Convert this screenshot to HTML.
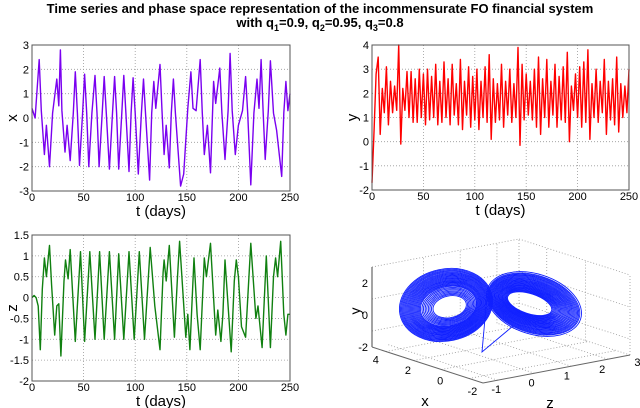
<!DOCTYPE html>
<html><head><meta charset="utf-8"><style>
body{margin:0;background:#fff;}
svg{display:block;font-family:"Liberation Sans",Arial,sans-serif;}
</style></head><body>
<svg id="fig" width="640" height="408" viewBox="0 0 640 408" xmlns="http://www.w3.org/2000/svg">
<text x="320" y="13" text-anchor="middle" font-size="13" font-weight="bold">Time series and phase space representation of the incommensurate FO financial system</text>
<text x="320" y="27" text-anchor="middle" font-size="13" font-weight="bold">with q<tspan font-size="9" dy="4">1</tspan><tspan dy="-4">=0.9, q</tspan><tspan font-size="9" dy="4">2</tspan><tspan dy="-4">=0.95, q</tspan><tspan font-size="9" dy="4">3</tspan><tspan dy="-4">=0.8</tspan></text>
<g id="layer"></g>
</svg>
<script>
const tTicks=[0,50,100,150,200,250];
const xTicks=[-3,-2,-1,0,1,2,3];
const yTicks=[-2,-1,0,1,2,3,4];
const zTicks=[-2,-1.5,-1,-0.5,0,0.5,1,1.5];
const xSeries=[[0,0.4],[3,0],[7,2.4],[9,0.3],[12,-1.5],[14,-0.3],[17,-2.0],[20,0.2],[24,1.6],[26,0.5],[27.5,2.8],[29,0.3],[32,-1.4],[34,-0.3],[37,-1.75],[40,0.2],[42,1.9],[44,0.2],[46,-1.95],[49,0.2],[51,1.8],[53,0.2],[55,-2.0],[58,0.2],[61,1.75],[63,0.2],[65,-2.0],[68,0.2],[70,1.7],[72,0.2],[75,-2.1],[78,0.2],[80,1.7],[82,0.2],[84,-2.1],[87,0.2],[89,1.75],[91,0.2],[94,-2.2],[96,0.2],[98,1.65],[100,0.2],[103,-2.3],[106,0.2],[108,1.6],[110,0.2],[114,-2.55],[116,0.2],[118,1.5],[120,0.4],[124,2.2],[126,0.3],[128,-1.5],[130,-0.3],[133,-2.05],[135,0.2],[137,1.6],[139,0.2],[144,-2.8],[147,-2.3],[151,0.4],[154,1.9],[156,0.4],[159,0.3],[163,2.4],[165,0.2],[167,-1.5],[170,-0.3],[173,-2.25],[176,1.5],[178,0.6],[182,2.05],[184,0.2],[187,-1.7],[190,0.3],[192,2.65],[194,0.3],[197,-1.5],[200,-0.3],[204,0.3],[207,1.7],[209,0.2],[212,-2.75],[215,0.2],[218,1.6],[220,0.4],[222,2.4],[224,0.2],[226,-1.7],[229,0.3],[231,2.35],[234,0.2],[237,-0.5],[242,-2.4],[244,0.2],[246,1.5],[248,0.3],[250,1.0]];
const ySeries=[[0,-1.7],[2,0.5],[4,2.8],[6,3.5],[8,0.3],[10,2.2],[12,1.2],[14,3.1],[16,0.7],[18,2.5],[20,1.2],[22,2.3],[24,1.3],[26,4.0],[28,-0.1],[30,2.2],[32,1.3],[34,2.9],[36,1.0],[38,2.9],[40,0.8],[42,2.6],[44,0.8],[46,3.0],[48,1.0],[50,2.8],[52,0.7],[54,3.0],[56,0.9],[58,2.7],[60,1.0],[62,3.2],[64,0.7],[66,2.5],[68,0.8],[70,3.3],[72,1.0],[74,2.6],[76,0.7],[78,3.2],[80,1.1],[82,2.4],[84,0.7],[86,3.4],[88,0.5],[90,2.5],[92,1.1],[94,3.1],[96,0.6],[98,2.7],[100,0.9],[102,3.0],[104,0.5],[106,2.5],[108,1.0],[110,3.1],[112,0.8],[114,3.6],[116,0.1],[118,2.6],[120,0.8],[122,2.4],[124,0.9],[126,3.2],[128,0.6],[130,2.5],[132,1.1],[134,3.0],[136,0.8],[138,2.4],[140,1.0],[142,3.9],[144,-0.15],[146,3.2],[148,0.9],[150,2.8],[152,1.1],[154,2.5],[156,0.9],[158,3.0],[160,0.6],[162,3.5],[164,0.3],[166,2.6],[168,1.0],[170,3.4],[172,0.6],[174,2.5],[176,1.1],[178,3.2],[180,0.6],[182,2.7],[184,0.9],[186,3.1],[188,0.8],[190,3.7],[192,0.0],[194,2.3],[196,1.3],[198,2.8],[200,1.0],[202,3.1],[204,0.6],[206,3.3],[208,0.8],[210,3.8],[212,0.1],[214,2.4],[216,1.0],[218,3.0],[220,0.8],[222,2.5],[224,1.2],[226,3.4],[228,0.3],[230,2.5],[232,0.9],[234,2.6],[236,0.7],[238,3.5],[240,0.4],[242,2.4],[244,1.0],[246,2.3],[248,1.2],[250,3.0]];
const zSeries=[[0,0],[2,0.05],[4,0],[6,-0.2],[8,-1.25],[10,0.2],[12,0.95],[14,0.5],[17,1.25],[19,0.3],[22,-0.9],[24,-0.2],[26,-0.15],[28,-1.4],[31,0.4],[32.5,0.9],[35,0.45],[37,1.15],[42,-1.05],[47,1.1],[51,-1.05],[56,1.1],[61,-1.0],[65.5,1.1],[70,-1.0],[75,1.1],[80,-1.0],[84,1.05],[89,-1.0],[94,1.1],[99,-1.0],[104,1.1],[109,-1.0],[114.5,1.2],[119,-0.2],[124,-1.25],[127,0.6],[128,0.9],[130,0.4],[133,1.25],[138,-0.95],[141,0.5],[143,1.35],[149,-0.95],[151,-0.4],[153,-1.25],[157,0.95],[160,-0.4],[163,-1.25],[167,0.95],[169,0.5],[173,1.3],[178,-0.9],[180,-0.3],[183,-1.05],[185,-0.4],[187,0.9],[193,-1.3],[196,0.4],[198,0.9],[200,0.5],[203,-0.7],[207,-0.95],[210,0.4],[212,1.3],[217,-0.5],[219,-0.2],[223,-1.2],[227,1.0],[231,-1.2],[234,0.5],[236,0.95],[238,0.5],[241,1.35],[244,-0.4],[246,-0.9],[248,-0.4],[250,-0.4]];
const leftLobeScales=[1.0,0.98,0.96,0.94,0.92,0.9,0.88,0.86,0.84,0.82,0.8,0.78,0.76,0.74,0.72,0.7,0.68,0.66,0.64,0.62,0.6,0.57,0.54,0.51,0.48,0.45,0.42,0.39,0.36];
const rightLobeScales=[1.0,0.97,0.95,0.93,0.91,0.89,0.87,0.85,0.83,0.81,0.79,0.77,0.75,0.73,0.71,0.69,0.67,0.65,0.63,0.61,0.59,0.57,0.55,0.53,0.51,0.49,0.47];
const phaseTicksX=[4,2,0,-2];
const phaseTicksY=[-2,0,2];
const phaseTicksZ=[-1,0,1,2,3];

const NS='http://www.w3.org/2000/svg';
const layer=document.getElementById('layer');
function mk(tag,attrs,parent){const e=document.createElementNS(NS,tag);for(const k in attrs)e.setAttribute(k,attrs[k]);(parent||layer).appendChild(e);return e;}
function txt(x,y,s,size,anchor,parent){const e=mk('text',{x:x,y:y,'font-size':size,'text-anchor':anchor||'middle'},parent);e.textContent=s;return e;}

function panel(name,box,ymin,ymax,yt,data,color,ylabel){
  const g=mk('g',{});
  
  
  const sx=t=>box.l+(t-0)/(250-0)*(box.r-box.l);
  const sy=v=>box.b-(v-ymin)/(ymax-ymin)*(box.b-box.t);
  tTicks.forEach(t=>{
    if(t>0&&t<250){const gl=mk('line',{x1:sx(t),x2:sx(t),y1:box.t,y2:box.b,stroke:'#999','stroke-width':0.8,'stroke-dasharray':'1,2'},g);
    
    }
    const tl=txt(sx(t),box.b+10,String(t),11,'middle',g);
    
    
  });
  yt.forEach(v=>{
    if(v>ymin&&v<ymax){const gl=mk('line',{x1:box.l,x2:box.r,y1:sy(v),y2:sy(v),stroke:'#999','stroke-width':0.8,'stroke-dasharray':'1,2'},g);
    
    }
    const tl=txt(box.l-3,sy(v)+4,String(v),11,'end',g);
    
    
  });
  const d=data.map((p,i)=>(i?'L':'M')+sx(p[0]).toFixed(1)+','+sy(p[1]).toFixed(1)).join('');
  const ln=mk('path',{d:d,fill:'none',stroke:color,'stroke-width':1.4,'stroke-linejoin':'round'},g);
  
  
  const fr=mk('rect',{x:box.l,y:box.t,width:box.r-box.l,height:box.b-box.t,fill:'none',stroke:'#555','stroke-width':1},g);
  
  
  const xl=txt((box.l+box.r)/2,box.b+25,'t (days)',15,'middle',g);
  
  
  const cy=(box.t+box.b)/2;
  const yl=txt(box.l-20,cy+5,ylabel,15,'middle',g);
  yl.setAttribute('transform','rotate(-90 '+(box.l-20)+' '+cy+')');
  
  
}
panel('x-time-series-panel',{l:32,r:290,t:45,b:191},-3,3,xTicks,xSeries,'#7a00f0','x');
panel('y-time-series-panel',{l:372,r:629,t:45,b:190},-2,4,yTicks,ySeries,'#ff0000','y');
panel('z-time-series-panel',{l:32,r:290,t:235,b:381},-2,1.5,zTicks,zSeries,'#108010','z');

// 3D phase plot
const g3=mk('g',{});


const B=[372,347],F=[483,383],R=[630,355];
const BR=[B[0]+R[0]-F[0],B[1]+R[1]-F[1]];
const H=80;
const grid='stroke:#999;stroke-width:0.8;stroke-dasharray:1,2;fill:none';
function gl(a,b){const e=mk('line',{x1:a[0],y1:a[1],x2:b[0],y2:b[1],style:grid},g3);

}
const xPos=f=>[F[0]+(B[0]-F[0])*f,F[1]+(B[1]-F[1])*f];
const zPos=f=>[F[0]+(R[0]-F[0])*f,F[1]+(R[1]-F[1])*f];
[0.125,0.375,0.625,0.875].forEach(f=>{const p=xPos(f);gl(p,[p[0]+R[0]-F[0],p[1]+R[1]-F[1]]);});
[0.1,0.35,0.6,0.85,1].forEach(f=>{const p=zPos(f);gl(p,[p[0]+B[0]-F[0],p[1]+B[1]-F[1]]);});
gl(BR,[BR[0],BR[1]-H]);gl(R,[R[0],R[1]-H]);
[0.35,0.6,0.85].forEach(f=>{const p=zPos(f);const q=[p[0]+B[0]-F[0],p[1]+B[1]-F[1]];gl(q,[q[0],q[1]-H]);});
[0.4,0.75].forEach(f=>{const p=xPos(f);const q=[p[0]+R[0]-F[0],p[1]+R[1]-F[1]];gl(q,[q[0],q[1]-H]);});
[0,1,2].forEach(i=>{const dy=16+i*32;gl([B[0],B[1]-dy],[BR[0],BR[1]-dy]);gl([BR[0],BR[1]-dy],[R[0],R[1]-dy]);});
const ax1=mk('line',{x1:B[0],y1:B[1],x2:B[0],y2:B[1]-H,stroke:'#666','stroke-width':1.2},g3);


const ax2=mk('line',{x1:B[0],y1:B[1],x2:F[0],y2:F[1],stroke:'#666','stroke-width':1},g3);


const ax3=mk('line',{x1:F[0],y1:F[1],x2:R[0],y2:R[1],stroke:'#666','stroke-width':1},g3);


phaseTicksY.forEach(v=>{const y=B[1]-(v+2)*16;const t=txt(B[0]-4,y+4,String(v),11,'end',g3);

});
phaseTicksX.forEach((v,i)=>{const f=0.93-i*0.29;const p=xPos(f);const t=txt(p[0]-4,p[1]+14,String(v),11,'middle',g3);

});
phaseTicksZ.forEach((v,i)=>{const f=0.07+i*0.24;const p=zPos(f);const t=txt(p[0]+3,p[1]+12,String(v),11,'middle',g3);

});
const l1=txt(B[0]-12,B[1]-36,'y',14,'middle',g3);l1.setAttribute('transform','rotate(-90 '+(B[0]-12)+' '+(B[1]-36)+')');


const l2=txt(425,406,'x',15,'middle',g3);


const l3=txt(550,408,'z',15,'middle',g3);


const att=mk('g',{fill:'none',stroke:'#1020ff','stroke-width':0.9},g3);


leftLobeScales.forEach((s,i)=>{const e=mk('ellipse',{cx:446+(1-s)*5,cy:305+(1-s)*4,rx:47*s,ry:36*s*(0.75+0.25*s),transform:'rotate(-12 446 305)'},att);

});
rightLobeScales.forEach((s,i)=>{const e=mk('ellipse',{cx:534-(1-s)*8,cy:304+(1-s)*2,rx:49*s,ry:30*s*(0.45+0.55*s),transform:'rotate(18 534 304)'},att);

});
const tr=mk('path',{d:'M487,296 L482,352 L513,326'},att);


</script>
</body></html>
